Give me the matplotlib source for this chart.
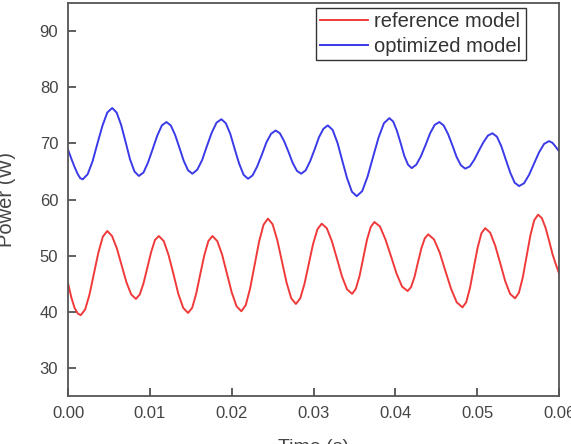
import numpy as np
import matplotlib
matplotlib.use("Agg")
import matplotlib.pyplot as plt

plt.rcParams["font.family"] = ["Liberation Sans", "DejaVu Sans"]

# time in milliseconds, power in W
T_REF_MS = [
    0.0, 0.4, 0.8, 1.2, 1.55,
    2.09, 2.63, 3.18, 3.72, 4.26, 4.8,
    5.38, 5.97, 6.55, 7.13, 7.72, 8.3,
    8.77, 9.23, 9.7, 10.17, 10.63, 11.1,
    11.7, 12.29, 12.89, 13.48, 14.08, 14.67,
    15.17, 15.66, 16.16, 16.66, 17.15, 17.65,
    18.24, 18.83, 19.42, 20.0, 20.59, 21.18,
    21.72, 22.26, 22.81, 23.35, 23.89, 24.43,
    25.0, 25.57, 26.14, 26.71, 27.28, 27.85,
    28.38, 28.9, 29.43, 29.95, 30.48, 31.0,
    31.62, 32.24, 32.86, 33.48, 34.1, 34.72,
    35.17, 35.63, 36.08, 36.53, 36.99, 37.44,
    38.12, 38.79, 39.47, 40.15, 40.82, 41.5,
    41.92, 42.34, 42.76, 43.18, 43.6, 44.02,
    44.72, 45.41, 46.11, 46.81, 47.5, 48.2,
    48.66, 49.13, 49.59, 50.05, 50.52, 50.98,
    51.59, 52.2, 52.81, 53.42, 54.02, 54.63,
    55.1, 55.57, 56.04, 56.5, 56.97, 57.44,
    57.9, 58.35, 58.8, 59.2, 59.6, 60.0,
]
P_REF = [
    45.1, 42.6, 40.7, 39.7, 39.4,
    40.4, 43.1, 46.9, 50.6, 53.4, 54.4,
    53.5, 51.3, 48.3, 45.3, 43.1, 42.3,
    43.1, 45.1, 47.9, 50.7, 52.8, 53.5,
    52.6, 50.1, 46.7, 43.2, 40.7, 39.8,
    40.7, 43.2, 46.7, 50.1, 52.6, 53.5,
    52.6, 50.2, 46.8, 43.5, 41.0, 40.1,
    41.2, 44.2, 48.4, 52.5, 55.5, 56.6,
    55.6, 52.8, 49.0, 45.2, 42.4, 41.4,
    42.4, 45.0, 48.6, 52.1, 54.7, 55.7,
    54.9, 52.6, 49.5, 46.3, 44.0, 43.2,
    44.1, 46.4, 49.6, 52.8, 55.1, 56.0,
    55.2, 52.9, 49.9, 46.8, 44.5, 43.7,
    44.4, 46.2, 48.8, 51.3, 53.1, 53.8,
    52.9, 50.6, 47.3, 44.1, 41.7, 40.8,
    41.7, 44.3, 47.9, 51.4, 54.0, 54.9,
    54.1, 51.8, 48.7, 45.5, 43.2, 42.4,
    43.4, 46.1, 49.9, 53.6, 56.3, 57.3,
    56.7, 55.0, 52.6, 50.3, 48.5, 46.9,
]

T_OPT_MS = [
    0.0, 0.4, 0.8, 1.2, 1.5, 1.8,
    2.4, 3.0, 3.6, 4.2, 4.8, 5.4,
    5.94, 6.49, 7.03, 7.57, 8.12, 8.66,
    9.22, 9.78, 10.35, 10.91, 11.47, 12.03,
    12.56, 13.09, 13.62, 14.14, 14.67, 15.2,
    15.79, 16.38, 16.97, 17.56, 18.15, 18.74,
    19.28, 19.83, 20.37, 20.91, 21.46, 22.0,
    22.56, 23.12, 23.69, 24.25, 24.81, 25.37,
    25.89, 26.41, 26.94, 27.46, 27.98, 28.5,
    29.04, 29.58, 30.13, 30.67, 31.21, 31.75,
    32.34, 32.93, 33.52, 34.1, 34.69, 35.28,
    35.95, 36.61, 37.28, 37.94, 38.61, 39.27,
    39.73, 40.18, 40.64, 41.09, 41.55, 42.0,
    42.56, 43.12, 43.69, 44.25, 44.81, 45.37,
    45.9, 46.43, 46.96, 47.48, 48.01, 48.54,
    49.1, 49.65, 50.21, 50.76, 51.32, 51.87,
    52.41, 52.95, 53.5, 54.04, 54.58, 55.12,
    55.73, 56.34, 56.95, 57.56, 58.17, 58.78,
    59.2, 59.6, 60.0,
]
P_OPT = [
    68.9, 67.3, 65.8, 64.5, 63.8, 63.6,
    64.5, 66.8, 70.0, 73.1, 75.5, 76.3,
    75.5, 73.3, 70.3, 67.2, 65.0, 64.2,
    64.8, 66.6, 69.0, 71.4, 73.2, 73.8,
    73.2, 71.5, 69.2, 66.9, 65.2, 64.6,
    65.3, 67.0, 69.5, 71.9, 73.7, 74.3,
    73.6, 71.7, 69.0, 66.4, 64.4, 63.7,
    64.3, 65.9, 68.0, 70.2, 71.7, 72.3,
    71.8, 70.4, 68.5, 66.5, 65.1, 64.6,
    65.2, 66.8, 68.9, 71.1, 72.6, 73.2,
    72.4, 70.1, 66.9, 63.8, 61.4, 60.6,
    61.5, 64.1, 67.6, 71.0, 73.6, 74.5,
    73.9, 72.3, 70.1, 67.8, 66.2, 65.6,
    66.2, 67.7, 69.7, 71.8, 73.3, 73.8,
    73.2, 71.7, 69.7, 67.6, 66.1, 65.5,
    65.9, 67.1, 68.7, 70.2, 71.4, 71.8,
    71.2, 69.5, 67.1, 64.8, 63.0, 62.4,
    62.9, 64.4, 66.4, 68.4, 69.9, 70.4,
    70.1, 69.4, 68.6,
]

LABELS = ["reference model", "optimized model"]
X_TICKS = [0.00, 0.01, 0.02, 0.03, 0.04, 0.05, 0.06]
Y_TICKS = [30, 40, 50, 60, 70, 80, 90]

fig = plt.figure(figsize=(5.71, 4.44), dpi=100)
ax = fig.add_axes([0.1191, 0.108, 0.8599, 0.8852])

ax.plot(np.array(T_REF_MS) / 1000, P_REF, color="#f03a3a", lw=1.4,
        solid_joinstyle="round", label=LABELS[0])
ax.plot(np.array(T_OPT_MS) / 1000, P_OPT, color="#3a3ae8", lw=1.4,
        solid_joinstyle="round", label=LABELS[1])

ax.set_xlim(0, 0.06)
ax.set_ylim(25, 95)
ax.set_xticks(X_TICKS)
ax.set_xticklabels([f"{v:.2f}" for v in X_TICKS])
ax.set_yticks(Y_TICKS)

for s in ax.spines.values():
    s.set_color("#555555")
    s.set_linewidth(1.3)
ax.tick_params(direction="in", length=6, width=1.1, color="#333333",
               labelsize=12, labelcolor="#444444", pad=7)
ax.tick_params(axis="y", right=False)

ax.set_xlabel("Time (s)", fontsize=14, color="#444444", labelpad=13)
ax.set_ylabel("Power (W)", fontsize=14.5, color="#444444")
ax.yaxis.set_label_coords(-0.106, 0.5)

leg = ax.legend(loc="upper right", bbox_to_anchor=(0.932, 0.9865), borderaxespad=0,
                fontsize=14.5, handlelength=2.4, handletextpad=0.3, borderpad=0.2,
                labelspacing=0.3, fancybox=False, framealpha=1)
leg.get_frame().set_edgecolor("#333333")
leg.get_frame().set_linewidth(1.0)
for t in leg.get_texts():
    t.set_color("#333333")

fig.savefig("out.png", dpi=100)
